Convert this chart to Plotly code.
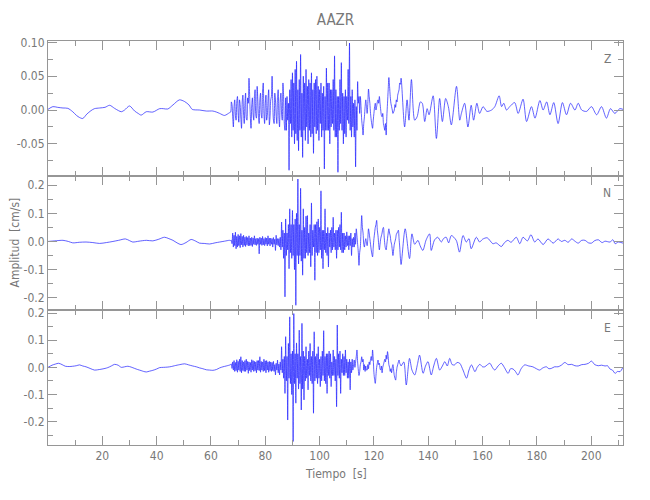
import plotly.graph_objects as go

TITLE = "AAZR"
COMPONENTS = ["Z", "N", "E"]
X_TITLE = "Tiempo  [s]"
Y_TITLE = "Amplitud  [cm/s]"

# sampling of the strong-motion segment (s)
T_STRONG_START = 67.5
DT_STRONG = 0.25

# ---------------- Z component (cm/s) ----------------
Z_T_QUIET = [0.0, 1.8, 3.5, 5.5, 7.3, 9.1, 10.5, 11.6, 12.8, 14.3, 15.8, 17.1, 19.0, 21.0, 22.7,
             24.5, 26.0, 27.0, 28.2, 30.0, 31.9, 33.2, 34.3, 36.2, 38.6, 41.1, 42.5, 44.1, 46.0,
             48.4, 50.3, 51.9, 53.1, 55.8, 58.3, 60.7, 62.0, 63.2, 65.0, 66.8, 67.25]
Z_V_QUIET = [0.001, 0.005, 0.004, 0.003, 0.0025, -0.0025, -0.008, -0.011, -0.0125, -0.006, -0.001,
             0.002, 0.003, 0.004, 0.007, 0.0025, -0.001, -0.0025, 0.0, 0.006, -0.0015, -0.005,
             -0.0075, -0.0025, -0.003, 0.002, 0.002, 0.0015, 0.0075, 0.015, 0.0125, 0.0075, 0.001,
             0.0, -0.0015, -0.0015, -0.003, -0.005, -0.008, -0.004, -0.003]
Z_V_STRONG = [
    0.012, 0.008, -0.010, -0.025, 0.005, 0.015, -0.008, -0.015, 0.012, 0.020,
    -0.004, -0.018, 0.015, 0.008, -0.012, -0.027, 0.012, 0.022, -0.006, -0.020,
    0.010, 0.025, -0.012, -0.015, 0.018, 0.010, 0.047, 0.020, -0.010, -0.027,
    0.006, 0.018, -0.006, -0.015, 0.020, 0.030, -0.008, -0.012, 0.035, 0.015,
    -0.010, -0.020, 0.015, 0.025, -0.006, -0.012, 0.028, 0.040, -0.005, -0.020,
    0.010, 0.022, -0.015, -0.008, 0.015, 0.030, -0.022, -0.010, 0.015, 0.020,
    0.050, 0.010, -0.015, -0.020, 0.025, 0.015, -0.008, -0.020, 0.020, 0.030,
    -0.010, -0.025, 0.015, 0.025, -0.006, -0.015, 0.040, 0.020, -0.020, -0.030,
    0.018, -0.030, 0.020, -0.015, 0.010, -0.089, 0.030, -0.020, 0.045, -0.040,
    0.055, -0.030, 0.040, -0.050, 0.060, -0.035, 0.072, -0.045, 0.030, -0.060,
    0.045, -0.030, 0.082, -0.040, 0.025, -0.070, 0.050, -0.030, 0.040, -0.045,
    0.060, -0.025, 0.035, -0.050, 0.045, -0.030, 0.040, -0.040, 0.055, -0.035,
    0.030, -0.064, 0.040, -0.025, 0.045, -0.035, 0.050, -0.030, 0.035, -0.045,
    0.030, -0.020, 0.040, -0.040, 0.025, -0.030, 0.035, -0.087, 0.020, -0.030,
    0.062, -0.030, 0.040, -0.030, 0.040, -0.050, 0.030, -0.025, 0.030, -0.020,
    0.045, -0.030, 0.080, -0.040, 0.030, -0.040, 0.020, -0.092, 0.020, -0.030,
    0.045, -0.020, 0.070, -0.030, 0.025, -0.050, 0.020, -0.035, 0.030, -0.040,
    0.020, -0.015, 0.060, -0.020, 0.099, -0.030, 0.020, -0.040, 0.030, -0.025,
    0.010, -0.040, 0.015, -0.084, 0.005, -0.030, 0.042, 0.010, 0.020, -0.005,
    0.020, 0.005, -0.015, -0.025, -0.037, -0.020, -0.010, 0.005, 0.015, 0.005,
    -0.005, 0.010, 0.031, 0.020, 0.010, -0.005, -0.015, -0.022, -0.027, -0.015,
    -0.005, 0.005, 0.010, 0.000, 0.005, 0.012, 0.015, 0.010, 0.020, 0.010,
    0.000, -0.008, -0.010, -0.005, -0.020, -0.025, -0.030, -0.020, -0.037, -0.010,
    0.010, 0.030, 0.048, 0.035, 0.020, 0.010, 0.005, 0.000, -0.005, -0.003,
    0.000, 0.008, 0.004, 0.015, 0.012, 0.022, 0.026, 0.030, 0.040, 0.038, 0.047,
]
Z_T_CODA = [131.3, 132.2, 132.9, 133.8, 135.0, 135.9, 137.1, 137.8, 138.7, 139.6, 140.3, 141.8,
            143.0, 144.2, 145.2, 146.4, 147.4, 148.5, 150.4, 151.6, 152.2, 153.4, 154.6, 155.8,
            156.7, 157.9, 158.9, 160.2, 161.6, 163.3, 164.5, 166.1, 167.0, 167.8, 168.8, 170.0,
            171.8, 173.1, 174.9, 176.2, 178.0, 179.3, 181.1, 182.3, 183.6, 184.8, 186.2, 187.8,
            189.4, 190.9, 192.4, 194.0, 195.2, 196.5, 198.3, 200.1, 202.0, 203.8, 205.6, 207.1,
            208.7, 210.5, 211.7]
Z_V_CODA = [-0.025, 0.015, -0.015, 0.045, -0.015, -0.010, 0.012, 0.010, -0.017, 0.002, -0.007,
            0.021, -0.042, 0.017, -0.017, 0.017, 0.005, -0.022, 0.035, -0.015, -0.005, 0.010,
            -0.025, 0.007, -0.015, 0.010, -0.005, 0.005, -0.002, 0.000, 0.005, 0.021, 0.005,
            0.010, 0.000, 0.005, 0.011, -0.005, 0.016, -0.017, 0.005, -0.012, 0.014, 0.000,
            0.012, -0.007, 0.011, -0.020, 0.011, -0.007, 0.010, 0.000, 0.010, 0.000, -0.002,
            0.005, -0.007, 0.005, -0.012, 0.002, -0.005, 0.002, 0.001]

# ---------------- N component (cm/s) ----------------
N_T_QUIET = [0.0, 2.5, 5.5, 7.5, 9.1, 11.5, 14.0, 16.5, 19.0, 21.5, 23.9, 26.0, 28.5, 30.0, 31.2,
             33.5, 36.2, 38.6, 40.8, 42.9, 44.5, 46.0, 47.5, 49.0, 50.8, 52.7, 54.2, 55.8, 57.5,
             59.5, 61.5, 63.2, 65.0, 66.8, 67.25]
N_V_QUIET = [0.0, 0.002, 0.004, 0.000, -0.005, -0.003, -0.002, -0.004, -0.007, -0.004, 0.000,
             0.004, 0.009, 0.003, -0.002, 0.001, 0.004, 0.002, 0.008, 0.015, 0.010, 0.004, -0.005,
             -0.011, -0.004, 0.007, 0.002, -0.006, -0.007, -0.009, -0.005, -0.002, 0.001, 0.004,
             0.003]
N_V_STRONG = [
    0.004, -0.008, 0.030, -0.020, 0.022, -0.015, 0.033, -0.026, 0.018, -0.020,
    0.025, -0.015, 0.020, -0.022, 0.028, -0.012, 0.018, -0.020, 0.022, -0.014,
    0.015, -0.018, 0.018, -0.012, 0.014, -0.016, 0.020, -0.015, 0.012, -0.014,
    0.015, -0.018, 0.012, -0.010, 0.020, -0.012, 0.010, -0.014, 0.012, -0.010,
    0.010, -0.044, 0.015, -0.010, 0.012, -0.014, 0.018, -0.012, 0.010, -0.015,
    0.014, -0.010, 0.012, -0.016, 0.020, -0.010, 0.012, -0.016, 0.012, -0.010,
    0.010, -0.020, 0.014, -0.010, 0.008, -0.032, 0.022, -0.012, 0.010, -0.015,
    0.010, -0.020, 0.015, -0.030, 0.069, -0.020, 0.040, -0.060, 0.030, -0.197,
    0.080, -0.050, 0.030, -0.030, 0.060, -0.097, 0.116, -0.040, 0.060, -0.060,
    0.110, -0.050, 0.060, -0.100, 0.080, -0.227, 0.100, -0.050, 0.222, -0.080,
    0.060, -0.050, 0.189, -0.070, 0.040, -0.120, 0.116, -0.060, 0.050, -0.060,
    0.090, -0.040, 0.092, -0.050, 0.030, -0.040, 0.060, -0.090, 0.137, -0.050,
    0.040, -0.020, 0.060, -0.138, 0.060, -0.040, 0.070, -0.050, 0.080, -0.040,
    0.050, -0.030, 0.180, -0.060, 0.040, -0.097, 0.040, -0.030, 0.116, -0.040,
    0.030, -0.050, 0.050, -0.091, 0.030, -0.020, 0.040, -0.040, 0.050, -0.030,
    0.086, -0.020, 0.030, -0.030, 0.040, -0.060, 0.040, -0.030, 0.050, -0.020,
    0.060, -0.030, 0.104, -0.040, 0.030, -0.040, 0.030, -0.030, 0.020, -0.020,
    0.034, -0.015, 0.020, -0.030, 0.020, -0.015, 0.030, -0.050, 0.010, -0.020,
    0.015, -0.020, 0.030, -0.010, 0.045, 0.020, -0.010, -0.040, -0.085, -0.040,
    -0.020, 0.040, 0.092, 0.050, 0.030, -0.010, -0.020, 0.000, 0.010, -0.005,
    -0.015, 0.010, 0.045, 0.030, 0.010, -0.010, -0.030, -0.045, -0.055, -0.020,
    0.010, 0.030, 0.050, 0.060, 0.075, 0.040, 0.020, -0.010, -0.030, -0.010,
    0.010, 0.020, 0.030, 0.045, 0.050, 0.020, -0.010, -0.025, -0.030, -0.010,
    0.010, 0.030, 0.045, 0.030, 0.020, 0.000, -0.010, -0.030, -0.050, -0.030,
    -0.010, 0.000, 0.010, 0.025, 0.030, 0.035, 0.040, 0.010, -0.020, -0.060, -0.082,
]
N_T_CODA = [131.5, 133.1, 134.0, 135.0, 136.2, 137.0, 138.0, 139.2, 140.5, 141.1, 142.3, 143.5,
            144.8, 145.6, 146.6, 147.5, 148.5, 150.3, 151.5, 152.8, 154.0, 155.0, 155.8, 157.7,
            158.9, 160.0, 161.7, 163.8, 165.0, 166.9, 168.0, 169.3, 170.5, 172.4, 173.7, 174.9,
            176.5, 177.8, 179.2, 180.4, 182.3, 184.1, 186.0, 187.8, 189.0, 190.3, 191.5, 192.8,
            194.0, 195.2, 196.5, 197.7, 199.0, 200.1, 201.3, 202.6, 204.0, 205.1, 206.9, 208.0,
            208.8, 210.0, 211.7]
N_V_CODA = [0.045, -0.061, 0.027, -0.010, 0.004, -0.015, -0.032, 0.005, 0.027, -0.032, 0.005,
            0.015, -0.002, 0.010, 0.015, -0.005, 0.021, 0.004, -0.038, 0.021, -0.002, 0.010,
            -0.026, 0.015, -0.002, 0.008, 0.013, -0.008, -0.005, -0.018, -0.005, 0.004, -0.003,
            0.015, -0.008, 0.015, 0.002, 0.024, -0.002, 0.009, -0.011, 0.009, -0.006, 0.009,
            0.000, 0.004, -0.003, 0.009, 0.001, -0.006, 0.004, 0.004, -0.005, -0.006, 0.003,
            0.006, -0.004, 0.001, -0.002, 0.006, -0.008, -0.002, -0.006]

# ---------------- E component (cm/s) ----------------
E_T_QUIET = [0.0, 1.5, 2.7, 3.9, 5.2, 6.4, 7.8, 9.1, 10.4, 11.6, 12.8, 14.0, 15.5, 17.1, 18.3,
             19.5, 21.0, 22.0, 23.3, 24.5, 25.8, 27.0, 28.2, 29.4, 30.6, 31.9, 33.0, 34.3, 35.2,
             36.2, 37.4, 38.6, 40.0, 41.1, 42.5, 44.1, 45.4, 46.6, 48.5, 50.3, 51.8, 53.3, 54.6,
             55.8, 57.0, 58.3, 59.5, 60.7, 62.0, 63.2, 64.4, 65.6, 67.25]
E_V_QUIET = [0.0, 0.008, 0.012, 0.015, 0.010, 0.004, 0.003, 0.004, 0.006, 0.009, 0.005, 0.002,
             -0.004, -0.010, -0.009, -0.007, -0.004, -0.001, 0.005, 0.011, 0.008, 0.000, 0.002,
             0.004, 0.001, -0.004, -0.008, -0.012, -0.015, -0.017, -0.014, -0.011, -0.006,
             -0.001, 0.000, 0.001, 0.003, 0.006, 0.010, 0.013, 0.009, 0.005, 0.002, -0.002,
             -0.005, -0.009, -0.010, -0.011, -0.008, -0.002, 0.002, 0.005, 0.010]
E_V_STRONG = [
    0.013, -0.004, 0.020, -0.010, 0.025, -0.015, 0.018, -0.012, 0.028, -0.018,
    0.022, -0.010, 0.030, -0.015, 0.039, -0.020, 0.025, -0.012, 0.020, -0.015,
    0.025, -0.015, 0.030, -0.010, 0.022, -0.022, 0.020, -0.012, 0.018, -0.018,
    0.028, -0.010, 0.025, -0.015, 0.022, -0.012, 0.020, -0.020, 0.025, -0.010,
    0.025, -0.012, 0.039, -0.018, 0.022, -0.010, 0.020, -0.015, 0.030, -0.012,
    0.024, -0.020, 0.025, -0.010, 0.020, -0.018, 0.022, -0.012, 0.020, -0.015,
    0.018, -0.012, 0.022, -0.015, 0.010, -0.028, 0.015, -0.010, 0.027, -0.020,
    0.012, -0.028, 0.020, -0.010, 0.076, -0.020, 0.030, -0.040, 0.040, -0.096,
    0.113, -0.050, 0.040, -0.194, 0.088, -0.040, 0.186, -0.060, 0.050, -0.100,
    0.060, -0.273, 0.198, -0.060, 0.050, -0.132, 0.090, -0.040, 0.050, -0.080,
    0.137, -0.060, 0.040, -0.157, 0.162, -0.080, 0.060, -0.120, 0.040, -0.050,
    0.076, -0.040, 0.030, -0.083, 0.060, -0.030, 0.088, -0.050, 0.040, -0.060,
    0.060, -0.169, 0.131, -0.050, 0.040, -0.040, 0.050, -0.060, 0.076, -0.040,
    0.030, -0.071, 0.040, -0.050, 0.060, -0.030, 0.135, -0.050, 0.040, -0.060,
    0.050, -0.096, 0.050, -0.030, 0.060, -0.040, 0.050, -0.071, 0.020, -0.030,
    0.064, -0.030, 0.040, -0.050, 0.030, -0.145, 0.156, -0.030, 0.050, -0.040,
    0.060, -0.096, 0.030, -0.020, 0.050, -0.030, 0.040, -0.030, 0.064, -0.020,
    0.030, -0.040, 0.020, -0.040, 0.030, -0.083, 0.020, -0.020, 0.030, -0.010,
    0.010, 0.027, 0.000, 0.020, 0.040, 0.064, 0.020, -0.010, -0.030, -0.016,
    0.010, 0.020, 0.039, 0.020, 0.030, -0.010, 0.010, -0.015, 0.005, -0.010,
    -0.010, 0.010, -0.005, 0.020, 0.010, 0.030, 0.040, 0.025, 0.064, 0.030,
    -0.020, -0.045, -0.059, -0.030, 0.000, 0.015, 0.027, 0.010, 0.015, -0.005,
    -0.010, 0.005, -0.020, 0.000, 0.010, 0.020, 0.030, 0.020, 0.045, 0.030,
    0.058, 0.040, 0.010, 0.000, -0.015, -0.005, -0.020, 0.000, 0.010, -0.010,
    -0.030, -0.040, -0.047, -0.020, 0.000, 0.010, 0.020, 0.027, 0.015, 0.010, 0.005,
]
E_T_CODA = [131.0, 131.9, 133.1, 134.0, 135.0, 136.0, 136.8, 138.1, 139.0, 139.9, 141.1, 142.0,
            143.0, 144.2, 145.2, 146.1, 147.0, 147.9, 148.8, 149.7, 150.6, 151.6, 152.8, 154.1,
            155.0, 155.9, 157.2, 158.0, 159.0, 160.0, 160.8, 161.8, 162.7, 163.6, 164.5, 165.7,
            166.9, 168.0, 169.4, 170.3, 171.2, 172.1, 173.0, 174.2, 175.5, 177.0, 178.5, 179.8,
            181.0, 182.2, 183.5, 184.4, 185.3, 186.5, 187.8, 189.0, 190.3, 191.5, 192.8, 194.0,
            195.2, 196.5, 197.7, 199.0, 200.1, 201.3, 202.6, 203.8, 205.1, 206.0, 206.9, 207.8,
            208.8, 209.7, 210.6, 211.7]
E_V_CODA = [0.020, -0.065, 0.033, -0.010, -0.028, 0.010, 0.045, -0.022, 0.005, 0.021, -0.028,
            0.005, 0.033, -0.010, 0.005, 0.021, 0.005, 0.033, 0.010, 0.009, 0.018, 0.015, -0.010,
            -0.040, -0.010, 0.009, -0.016, 0.000, 0.011, 0.002, 0.002, 0.010, 0.015, 0.000,
            -0.010, 0.005, 0.015, 0.000, -0.022, -0.005, -0.006, -0.015, -0.028, -0.005, 0.009,
            0.005, 0.002, -0.005, -0.010, -0.002, 0.002, -0.005, -0.004, 0.002, 0.002, 0.008,
            0.018, 0.010, 0.011, 0.006, 0.005, 0.010, 0.011, 0.015, 0.023, 0.010, 0.006, 0.008,
            0.005, 0.006, -0.006, -0.010, -0.022, -0.015, -0.016, 0.000]

# ---------------- axes ----------------
X_RANGE = [0.0, 211.7]
X_TICKVALS = [20, 40, 60, 80, 100, 120, 140, 160, 180, 200]
X_TICKTEXT = ["20", "40", "60", "80", "100", "120", "140", "160", "180", "200"]
Y_RANGES = [[-0.097, 0.102], [-0.245, 0.234], [-0.286, 0.210]]
Y_TICKVALS = [[-0.05, 0.0, 0.05, 0.10], [-0.2, -0.1, 0.0, 0.1, 0.2], [-0.2, -0.1, 0.0, 0.1, 0.2]]
Y_TICKTEXT = [["-0.05", "0.00", "0.05", "0.10"], ["-0.2", "-0.1", "0.0", "0.1", "0.2"],
              ["-0.2", "-0.1", "0.0", "0.1", "0.2"]]
Y_MINOR = [0.025, 0.05, 0.05]


def build(tq, vq, vs, tc, vc):
    ts = [T_STRONG_START + DT_STRONG * i for i in range(len(vs))]
    return list(tq) + ts + list(tc), list(vq) + list(vs) + list(vc)


SERIES = [build(Z_T_QUIET, Z_V_QUIET, Z_V_STRONG, Z_T_CODA, Z_V_CODA),
          build(N_T_QUIET, N_V_QUIET, N_V_STRONG, N_T_CODA, N_V_CODA),
          build(E_T_QUIET, E_V_QUIET, E_V_STRONG, E_T_CODA, E_V_CODA)]

FONT = "DejaVu Sans Condensed, Liberation Sans Narrow, sans-serif"
AXC = "rgb(150,150,150)"
TXC = "rgb(120,120,120)"
LINEC = "rgb(30,30,255)"

fig = go.Figure()
domains = [[2 / 3, 1.0], [1 / 3, 2 / 3], [0.0, 1 / 3]]
layout = {}
for i, (t, v) in enumerate(SERIES):
    k = i + 1
    fig.add_trace(go.Scatter(x=t, y=v, mode="lines",
                             line=dict(color=LINEC, width=0.7, shape="spline", smoothing=0.8),
                             xaxis=f"x{k}", yaxis=f"y{k}", showlegend=False, hoverinfo="skip"))
    layout[f"xaxis{k}"] = dict(
        domain=[0, 1], anchor=f"y{k}", range=X_RANGE,
        tickvals=X_TICKVALS, ticktext=X_TICKTEXT,
        ticks="inside", ticklen=9, tickcolor=AXC, tickwidth=1,
        showline=True, linecolor=AXC, linewidth=1, mirror="ticks",
        showgrid=False, zeroline=False, showticklabels=(k == 3), automargin=False,
        minor=dict(dtick=10, tick0=0, ticks="inside", ticklen=5, tickcolor=AXC, showgrid=False),
        tickfont=dict(family=FONT, size=12, color=TXC),
    )
    layout[f"yaxis{k}"] = dict(
        domain=domains[i], anchor=f"x{k}", range=Y_RANGES[i],
        tickvals=Y_TICKVALS[i], ticktext=Y_TICKTEXT[i],
        ticks="inside", ticklen=9, tickcolor=AXC, tickwidth=1,
        showline=True, linecolor=AXC, linewidth=1, mirror="ticks",
        showgrid=False, zeroline=False, automargin=False,
        minor=dict(dtick=Y_MINOR[i], tick0=0, ticks="inside", ticklen=5, tickcolor=AXC,
                   showgrid=False),
        tickfont=dict(family=FONT, size=12, color=TXC),
    )

annotations = []
label_y = [0.955, 0.625, 0.29]
for i, c in enumerate(COMPONENTS):
    annotations.append(dict(text=c, xref="paper", yref="paper", x=0.973, y=label_y[i],
                            showarrow=False, xanchor="center", yanchor="middle",
                            font=dict(family=FONT, size=12, color=TXC)))
annotations.append(dict(text=Y_TITLE, xref="paper", yref="paper", x=-0.057, y=0.502,
                        textangle=-90, showarrow=False, xanchor="center", yanchor="middle",
                        font=dict(family=FONT, size=12, color=TXC)))
annotations.append(dict(text=X_TITLE, xref="paper", yref="paper", x=0.5, y=-0.071,
                        showarrow=False, xanchor="center", yanchor="middle",
                        font=dict(family=FONT, size=12, color=TXC)))

# the page body adds an 8 px offset; margins are chosen so the plot box lands at
# x 48..623, y 41..445 in the browser window
fig.update_layout(
    width=650, height=500,
    margin=dict(l=40, r=35, t=33, b=63),
    paper_bgcolor="white", plot_bgcolor="white",
    title=dict(text=TITLE, x=0.5, xref="paper", y=1 - 12 / 500, yanchor="middle",
               font=dict(family=FONT, size=15, color=TXC)),
    annotations=annotations,
    **layout,
)

fig.write_html("out.html")
